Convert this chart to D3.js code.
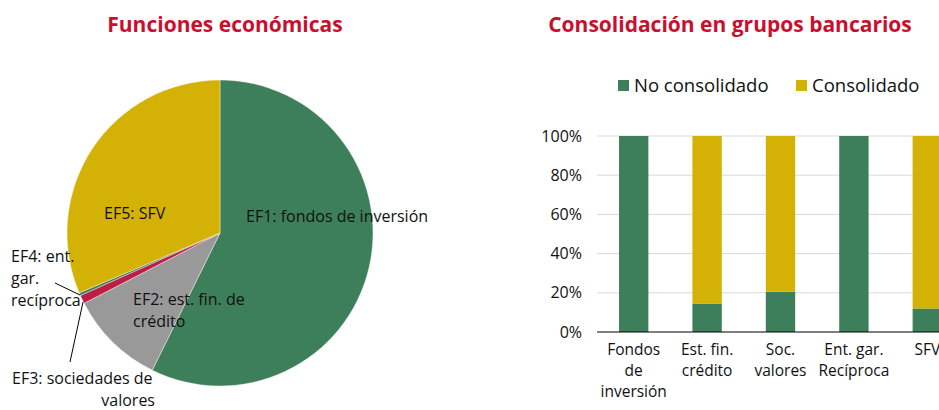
<!DOCTYPE html>
<html>
<head>
<meta charset="utf-8">
<script src="https://cdn.jsdelivr.net/npm/d3@7"></script>
<style>
  body { margin: 0; background: #fff; }
  svg { font-family: "Open Sans", sans-serif; display: block; }
</style>
</head>
<body>
<svg id="chart" width="939" height="410"></svg>
<script>
// pie data (percent)
var pieLabels = ["EF1: fondos de inversión", "EF2: est. fin. de crédito", "EF3: sociedades de valores", "EF4: ent. gar. recíproca", "EF5: SFV"];
var pieValues = [57.3, 10.1, 0.9, 0.3, 31.4];
var pieColors = ["#3d7f5a", "#999999", "#be1e46", "#3d7f5a", "#d3b105"];

// bar data (percent)
var barCategories = [["Fondos", "de", "inversión"], ["Est. fin.", "crédito"], ["Soc.", "valores"], ["Ent. gar.", "Recíproca"], ["SFV"]];
var noConsolidado = [100, 14.5, 20.6, 100, 12];
var consolidado = [0, 85.5, 79.4, 0, 88];
var yTicks = [0, 20, 40, 60, 80, 100];

var svg = d3.select("#chart");
var red = "#c8102e";
var ink = "#111";

// ---- pie ----
svg.append("text").attr("x", 225).attr("y", 32).attr("text-anchor", "middle")
  .attr("fill", red).attr("font-weight", "bold").attr("font-size", 21)
  .text("Funciones económicas");

var cx = 220, cy = 233, r = 153;
var pie = d3.pie().sort(null).value(function(d) { return d; });
var arc = d3.arc().innerRadius(0).outerRadius(r);
var g = svg.append("g").attr("transform", "translate(" + cx + "," + cy + ")");
g.selectAll("path").data(pie(pieValues)).enter().append("path")
  .attr("d", arc)
  .attr("fill", function(d, i) { return pieColors[i]; })
  .attr("stroke", "#fff").attr("stroke-width", 0.4);

// labels
function lines(x, y, arr, anchor) {
  var t = svg.append("text").attr("font-size", 16).attr("fill", ink).attr("text-anchor", anchor || "start");
  arr.forEach(function(s, i) {
    t.append("tspan").attr("x", x).attr("y", y + i * 22).text(s);
  });
}
lines(246, 222, ["EF1: fondos de inversión"]);
lines(104, 219, ["EF5: SFV"]);
lines(133, 305, ["EF2: est. fin. de", "crédito"]);
lines(11, 262, ["EF4: ent.", "gar.", "recíproca"]);
lines(12, 384, ["EF3: sociedades de"]);
lines(155, 406, ["valores"], "end");

// leader lines
svg.append("line").attr("x1", 55).attr("y1", 283).attr("x2", 80).attr("y2", 295)
  .attr("stroke", "#000").attr("stroke-width", 1);
svg.append("line").attr("x1", 70).attr("y1", 362).attr("x2", 83).attr("y2", 302)
  .attr("stroke", "#000").attr("stroke-width", 1);

// ---- bars ----
svg.append("text").attr("x", 730).attr("y", 32).attr("text-anchor", "middle")
  .attr("fill", red).attr("font-weight", "bold").attr("font-size", 21)
  .text("Consolidación en grupos bancarios");

var x = d3.scaleBand().domain(d3.range(barCategories.length)).range([597, 964]).paddingInner(0.6).paddingOuter(0.3);
var y = d3.scaleLinear().domain([0, 100]).range([332, 136]);

var grid = svg.append("g");
grid.selectAll("line").data(yTicks.slice(1)).enter().append("line")
  .attr("x1", 597).attr("x2", 964)
  .attr("y1", function(d) { return y(d); }).attr("y2", function(d) { return y(d); })
  .attr("stroke", "#d9d9d9").attr("stroke-width", 1);

var yAxis = svg.append("g").attr("transform", "translate(597,0)")
  .call(d3.axisLeft(y).tickValues(yTicks).tickSize(0).tickPadding(15).tickFormat(function(d) { return d + "%"; }));
yAxis.select(".domain").remove();
yAxis.selectAll("text").attr("font-size", 16).attr("fill", ink).attr("font-family", "Open Sans, sans-serif");

svg.append("g").selectAll("rect").data(noConsolidado).enter().append("rect")
  .attr("x", function(d, i) { return x(i); }).attr("width", x.bandwidth())
  .attr("y", function(d) { return y(d); }).attr("height", function(d) { return y(0) - y(d); })
  .attr("fill", "#3d7f5a");
svg.append("g").selectAll("rect").data(consolidado).enter().append("rect")
  .attr("x", function(d, i) { return x(i); }).attr("width", x.bandwidth())
  .attr("y", function(d, i) { return y(noConsolidado[i] + d); })
  .attr("height", function(d) { return y(0) - y(d); })
  .attr("fill", "#d3b105");

svg.append("line").attr("x1", 597).attr("x2", 964).attr("y1", y(0)).attr("y2", y(0))
  .attr("stroke", "#000").attr("stroke-width", 1.2);

barCategories.forEach(function(c, i) {
  var t = svg.append("text").attr("font-size", 15.5).attr("fill", ink).attr("text-anchor", "middle");
  c.forEach(function(s, j) {
    t.append("tspan").attr("x", x(i) + x.bandwidth() / 2).attr("y", 355 + j * 21).text(s);
  });
});

// legend
var legend = [["No consolidado", "#3d7f5a", 618], ["Consolidado", "#d3b105", 796]];
legend.forEach(function(l) {
  svg.append("rect").attr("x", l[2]).attr("y", 80).attr("width", 11).attr("height", 11).attr("fill", l[1]);
  svg.append("text").attr("x", l[2] + 16).attr("y", 92).attr("font-size", 18.5).attr("fill", ink).text(l[0]);
});
</script>
</body>
</html>
